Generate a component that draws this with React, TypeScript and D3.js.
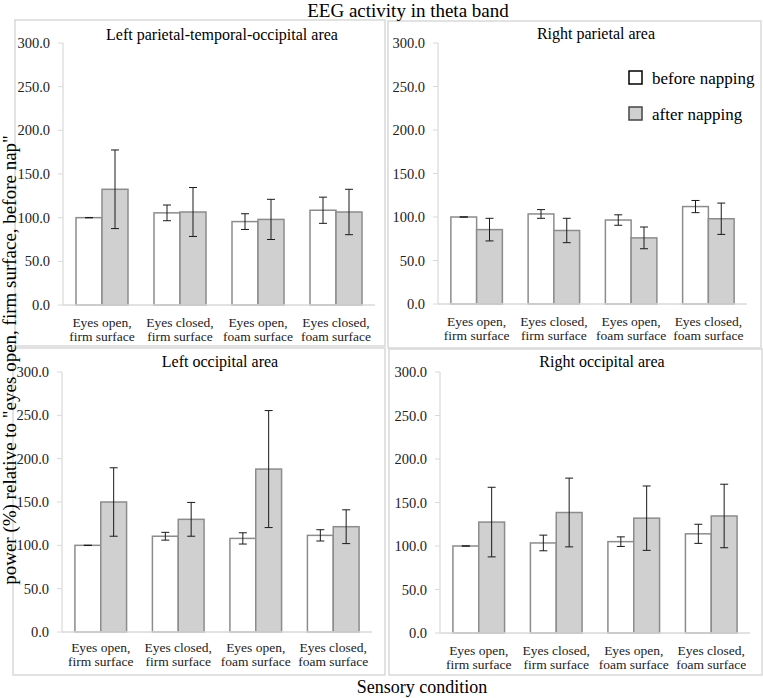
import React from "react";
import * as d3 from "d3";

// sensory conditions (x categories)
const categories = [
  "Eyes open, firm surface",
  "Eyes closed, firm surface",
  "Eyes open, foam surface",
  "Eyes closed, foam surface",
];
const seriesNames = ["before napping", "after napping"];
const yTicks = [0, 50, 100, 150, 200, 250, 300];

// Left parietal-temporal-occipital area
const lptoBefore = [100, 105.5, 95.5, 108.5];
const lptoBeforeErr = [0, 9, 9, 15];
const lptoAfter = [132.5, 106.5, 98, 106.5];
const lptoAfterErr = [45, 28, 23, 26];

// Right parietal area
const rpBefore = [100, 103.5, 96.5, 112];
const rpBeforeErr = [0, 5, 6, 7];
const rpAfter = [85.5, 84.5, 76, 98];
const rpAfterErr = [13, 14, 12.5, 18];

// Left occipital area
const loBefore = [100, 110.5, 108, 111.5];
const loBeforeErr = [0, 4.5, 6.5, 6.5];
const loAfter = [150, 130, 188, 121.5];
const loAfterErr = [39.5, 19.5, 67.5, 19.5];

// Right occipital area
const roBefore = [100, 103.5, 105, 114];
const roBeforeErr = [0, 9, 5.5, 11];
const roAfter = [127.5, 138.5, 132, 134.5];
const roAfterErr = [40, 39.5, 37, 36.5];

const FONT = "'Liberation Serif', 'Times New Roman', serif";
const fills = ["#ffffff", "#d0d0d0"];

type PanelDef = {
  title: string;
  before: number[];
  beforeErr: number[];
  after: number[];
  afterErr: number[];
  frame: [number, number, number, number];
  plot: { x0: number; x1: number; y0: number; y1: number };
  titleX: number;
  titleY: number;
  labelY: number;
  legend?: boolean;
};

const panels: PanelDef[] = [
  {
    title: "Left parietal-temporal-occipital area",
    before: lptoBefore, beforeErr: lptoBeforeErr, after: lptoAfter, afterErr: lptoAfterErr,
    frame: [15, 20, 385, 346],
    plot: { x0: 63, x1: 375, y0: 305, y1: 43 },
    titleX: 222, titleY: 40, labelY: 327,
  },
  {
    title: "Right parietal area",
    before: rpBefore, beforeErr: rpBeforeErr, after: rpAfter, afterErr: rpAfterErr,
    frame: [388, 21, 761, 348],
    plot: { x0: 438, x1: 747, y0: 304, y1: 43 },
    titleX: 596, titleY: 39, labelY: 326,
    legend: true,
  },
  {
    title: "Left occipital area",
    before: loBefore, beforeErr: loBeforeErr, after: loAfter, afterErr: loAfterErr,
    frame: [13, 348, 385, 675],
    plot: { x0: 62, x1: 372, y0: 632, y1: 372 },
    titleX: 220, titleY: 367, labelY: 652,
  },
  {
    title: "Right occipital area",
    before: roBefore, beforeErr: roBeforeErr, after: roAfter, afterErr: roAfterErr,
    frame: [389, 349, 762, 675],
    plot: { x0: 440, x1: 750, y0: 633, y1: 372 },
    titleX: 602, titleY: 367, labelY: 655,
  },
];

const Panel: React.FC<{ p: PanelDef }> = ({ p }) => {
  const x = d3.scaleBand<string>().domain(categories).range([p.plot.x0, p.plot.x1])
    .paddingInner(1 / 3).paddingOuter(1 / 6);
  const xs = d3.scaleBand<string>().domain(seriesNames).range([0, x.bandwidth()]);
  const y = d3.scaleLinear().domain([0, 300]).range([p.plot.y0, p.plot.y1]);
  const series = [
    { name: seriesNames[0], vals: p.before, errs: p.beforeErr },
    { name: seriesNames[1], vals: p.after, errs: p.afterErr },
  ];
  const [fx0, fy0, fx1, fy1] = p.frame;
  return (
    <g>
      <rect x={fx0} y={fy0} width={fx1 - fx0} height={fy1 - fy0} fill="#fff" stroke="#d9d9d9" strokeWidth={1.5} />
      <text x={p.titleX} y={p.titleY} textAnchor="middle" fontSize={16} fontFamily={FONT}>{p.title}</text>
      {yTicks.map((t) => (
        <g key={t}>
          <line x1={p.plot.x0 - 5} x2={p.plot.x0} y1={y(t)} y2={y(t)} stroke="#d9d9d9" />
          <text x={p.plot.x0 - 13} y={y(t) + 5} textAnchor="end" fontSize={14.5} fontFamily={FONT} fill="#222">
            {t.toFixed(1)}
          </text>
        </g>
      ))}
      <line x1={p.plot.x0} x2={p.plot.x0} y1={y(300)} y2={y(0)} stroke="#d9d9d9" strokeWidth={1.2} />
      {series.map((s, si) =>
        s.vals.map((v, i) => {
          const bx = (x(categories[i]) ?? 0) + (xs(s.name) ?? 0);
          return (
            <rect key={`${si}-${i}`} x={bx} y={y(v)} width={xs.bandwidth()} height={y(0) - y(v)}
              fill={fills[si]} stroke="#8c8c8c" strokeWidth={1.5} />
          );
        })
      )}
      <line x1={p.plot.x0} x2={p.plot.x1} y1={y(0)} y2={y(0)} stroke="#d9d9d9" strokeWidth={1.5} />
      {series.map((s, si) =>
        s.vals.map((v, i) => {
          const cx = (x(categories[i]) ?? 0) + (xs(s.name) ?? 0) + xs.bandwidth() / 2;
          const e = s.errs[i];
          return (
            <g key={`e${si}-${i}`} stroke="#1a1a1a" strokeWidth={1}>
              <line x1={cx} x2={cx} y1={y(v + e)} y2={y(v - e)} />
              <line x1={cx - 4} x2={cx + 4} y1={y(v + e)} y2={y(v + e)} />
              <line x1={cx - 4} x2={cx + 4} y1={y(v - e)} y2={y(v - e)} />
            </g>
          );
        })
      )}
      {categories.map((c) => {
        const cx = (x(c) ?? 0) + x.bandwidth() / 2;
        const parts = c.split(", ");
        return (
          <text key={c} x={cx} y={p.labelY} textAnchor="middle" fontSize={13.5} fontFamily={FONT} fill="#222">
            <tspan x={cx}>{parts[0] + ","}</tspan>
            <tspan x={cx} dy={14}>{parts[1]}</tspan>
          </text>
        );
      })}
      {p.legend &&
        seriesNames.map((n, i) => (
          <g key={n}>
            <rect x={629} y={71 + i * 36} width={13} height={13} fill={fills[i]}
              stroke={i === 0 ? "#000" : "#444"} strokeWidth={1.5} />
            <text x={652} y={84 + i * 36} fontSize={17} fontFamily={FONT}>{n}</text>
          </g>
        ))}
    </g>
  );
};

const App: React.FC = () => {
  return (
    <svg width={763} height={698} style={{ position: "absolute", left: 0, top: 0, background: "#fff" }}>
      {panels.map((p) => (
        <Panel key={p.title} p={p} />
      ))}
      <text x={408} y={17} textAnchor="middle" fontSize={19} fontFamily={FONT}>EEG activity in theta band</text>
      <text x={422} y={693} textAnchor="middle" fontSize={18} fontFamily={FONT}>Sensory condition</text>
      <text transform="translate(16,360) rotate(-90)" textAnchor="middle" fontSize={19} fontFamily={FONT}>
        power (%) relative to "eyes open, firm surface, before nap"
      </text>
    </svg>
  );
};

export default App;
